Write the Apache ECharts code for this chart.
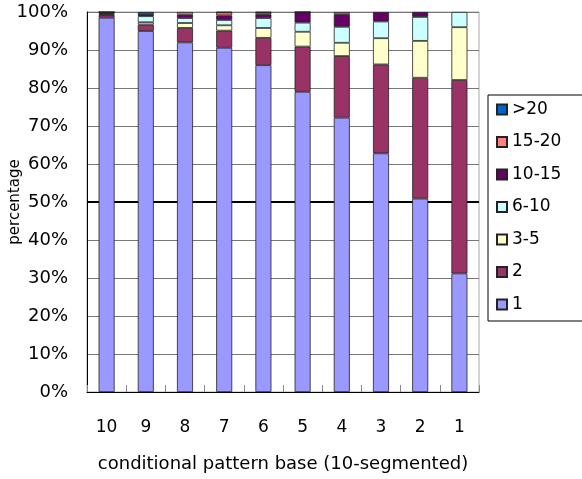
<!DOCTYPE html>
<html>
<head>
<meta charset="utf-8">
<script src="https://cdn.jsdelivr.net/npm/echarts@6/dist/echarts.min.js"></script>
<style>html,body{margin:0;padding:0;background:#fff;}#c{width:582px;height:479px;}</style>
</head>
<body>
<div id="c"></div>
<script>
const categories = ['10','9','8','7','6','5','4','3','2','1'];
const s1    = [98.5, 95.0, 92.0, 90.6, 86.0, 79.0, 72.2, 62.8, 50.9, 31.2];
const s2    = [0.7, 1.7, 3.8, 4.5, 7.2, 11.9, 16.2, 23.4, 31.8, 50.9];
const s3_5  = [0.2, 0.6, 1.3, 1.4, 2.6, 3.9, 3.5, 6.9, 9.7, 13.9];
const s6_10 = [0.3, 1.6, 1.3, 1.4, 2.6, 2.4, 4.2, 4.4, 6.3, 4.0];
const s10_15= [0.2, 0.3, 0.9, 1.2, 1.0, 2.7, 3.3, 2.5, 1.3, 0];
const s15_20= [0.05, 0.1, 0.7, 0.8, 0.5, 0.05, 0.6, 0, 0, 0];
const s20   = [0.05, 0.7, 0, 0.1, 0.1, 0.05, 0, 0, 0, 0];
const seriesNames = ['1','2','3-5','6-10','10-15','15-20','>20'];
const seriesData = [s1, s2, s3_5, s6_10, s10_15, s15_20, s20];
const colors = ['#9999FF','#993366','#FFFFCC','#CCFFFF','#660066','#FF8080','#0066CC'];
const yTicks = [0,10,20,30,40,50,60,70,80,90,100];
const refLine = 50;

const FONT = 'DejaVu Sans';
const chart = echarts.init(document.getElementById('c'), null, {renderer:'canvas'});
const series = seriesNames.map((n, i) => ({
  name: n,
  type: 'bar',
  stack: 'total',
  barWidth: 16,
  z: 3,
  data: seriesData[i].map(v => v === 0 ? null : v),
  itemStyle: { color: colors[i], borderColor: '#222', borderWidth: 0.8 },
  emphasis: { disabled: true },
  animation: false
}));
series.push({
  name: 'ref', type: 'line', data: [], z: 1, silent: true,
  markLine: {
    z: 1, silent: true, symbol: 'none', label: { show: false },
    lineStyle: { color: '#000', width: 2, type: 'solid' },
    data: [{ yAxis: refLine }], animation: false
  }
});

chart.setOption({
  animation: false,
  backgroundColor: '#fff',
  grid: { left: 87, right: 103, top: 12, bottom: 87, show: true, borderColor: '#aaa', borderWidth: 1,
          containLabel: false, outerBoundsMode: 'none' },
  legend: {
    orient: 'vertical', left: 488, top: 95,
    data: seriesNames.slice().reverse(),
    itemWidth: 10, itemHeight: 10, itemGap: 15.5,
    padding: [6, 30, 8, 8],
    borderColor: '#000', borderWidth: 1,
    selectedMode: false,
    textStyle: { fontFamily: FONT, fontSize: 17, color: '#000' },
    icon: 'rect'
  },
  xAxis: {
    type: 'category', data: categories,
    name: 'conditional pattern base (10-segmented)',
    nameLocation: 'middle', nameGap: 63, nameMoveOverlap: false,
    nameTextStyle: { fontFamily: FONT, fontSize: 18, color: '#000' },
    axisLine: { lineStyle: { color: '#000', width: 1 } },
    axisTick: { show: true, inside: true, length: 7, lineStyle: { color: '#888' } },
    axisLabel: { fontFamily: FONT, fontSize: 17, color: '#000', margin: 27 },
    splitLine: { show: false }
  },
  yAxis: {
    type: 'value', min: 0, max: 100, interval: 10,
    name: 'percentage', nameLocation: 'middle', nameGap: 64, nameMoveOverlap: false,
    nameTextStyle: { fontFamily: FONT, fontSize: 15, color: '#000' },
    axisLine: { show: true, lineStyle: { color: '#000', width: 1 } },
    axisTick: { show: false },
    axisLabel: { fontFamily: FONT, fontSize: 18, color: '#000', margin: 19,
      formatter: v => yTicks.includes(v) ? v + '%' : '' },
    splitLine: { show: true, lineStyle: { color: '#777', width: 1 } }
  },
  series: series
});
</script>
</body>
</html>
